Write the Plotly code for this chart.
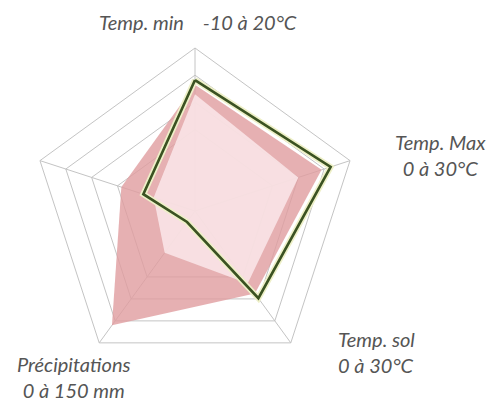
import plotly.graph_objects as go

categories = ["Temp. min", "Temp. Max", "Temp. sol", "Précipitations", "Humidité"]
max_vals = [4.65, 4.9, 3.75, 5.2, 2.85]
min_vals = [4.3, 4.0, 3.3, 1.9, 1.6]
year_vals = [4.82, 5.25, 3.97, 0.5, 2.0]
ring_vals = [3, 4, 5, 6]

W, H = 491, 401
cx, cy, R = 195, 211, 163


def closed(v):
    return list(v) + [v[0]]


cats = closed(categories)

fig = go.Figure()
fig.add_trace(go.Scatterpolar(r=closed(max_vals), theta=cats, mode="lines", fill="toself",
                              fillcolor="rgba(224,156,159,0.8)", line=dict(color="rgba(0,0,0,0)", width=0),
                              hoverinfo="skip"))
fig.add_trace(go.Scatterpolar(r=closed(min_vals), theta=cats, mode="lines", fill="toself",
                              fillcolor="rgba(250,232,234,0.85)", line=dict(color="rgba(0,0,0,0)", width=0),
                              hoverinfo="skip"))
fig.add_trace(go.Scatterpolar(r=closed(year_vals), theta=cats, mode="lines",
                              line=dict(color="#eef0c8", width=6), hoverinfo="skip"))
fig.add_trace(go.Scatterpolar(r=closed(year_vals), theta=cats, mode="lines",
                              line=dict(color="#3b5222", width=2.6), hoverinfo="skip"))

fig.update_layout(
    width=W, height=H,
    margin=dict(l=0, r=0, t=0, b=0),
    paper_bgcolor="white",
    showlegend=False,
    polar=dict(
        domain=dict(x=[(cx - R) / W, (cx + R) / W], y=[(H - cy - R) / H, (H - cy + R) / H]),
        bgcolor="white",
        gridshape="linear",
        radialaxis=dict(range=[0, 6], tickvals=ring_vals, showticklabels=False, ticks="",
                        showline=False, gridcolor="#c4c4c4", gridwidth=1),
        angularaxis=dict(categoryorder="array", categoryarray=categories, rotation=90,
                         direction="clockwise", showticklabels=False, ticks="",
                         gridcolor="#c4c4c4", gridwidth=1, linecolor="#c4c4c4", linewidth=1),
    ),
)

font = dict(family="Lato, 'Open Sans', sans-serif", size=20, color="#555555")
labels = [
    ("<i>Temp. min\u00a0\u00a0\u00a0\u00a0-10 à 20°C</i>", 198, 22, "center"),
    ("<i>Temp. Max<br>0 à 30°C</i>", 440, 155, "center"),
    ("<i>Temp. sol<br>0 à 30°C</i>", 336, 352, "left"),
    ("<i>Précipitations<br>0 à 150 mm</i>", 74, 377, "center"),
]
for text, x, y, al in labels:
    fig.add_annotation(text=text, x=x / W, y=1 - y / H, xref="paper", yref="paper",
                       xanchor=al, yanchor="middle", align=al, showarrow=False, font=font)

fig.write_html("out.html", config={"displayModeBar": False},
               post_script="document.body.style.margin='0';document.body.style.overflow='hidden';")
